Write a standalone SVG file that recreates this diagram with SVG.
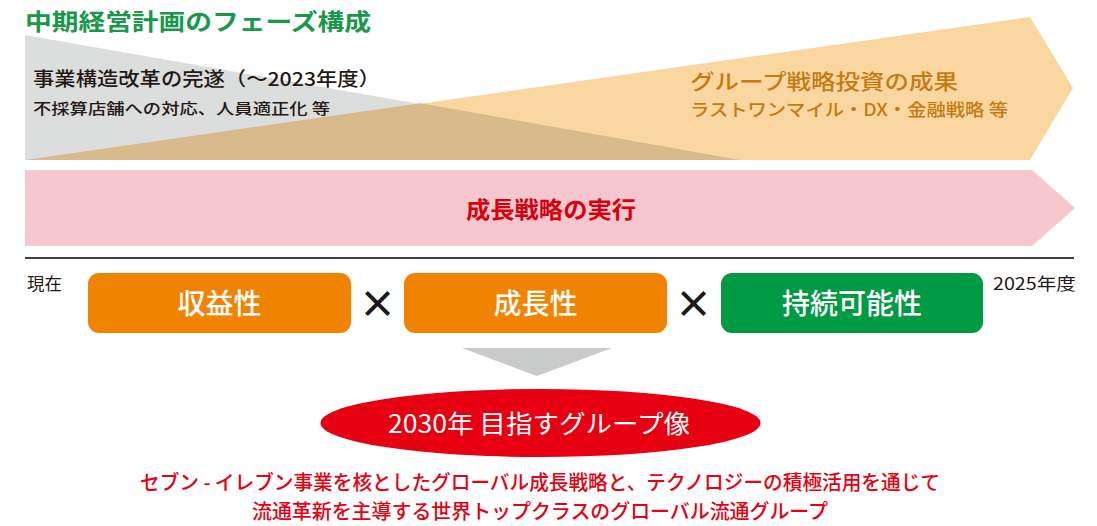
<svg xmlns="http://www.w3.org/2000/svg" width="1097" height="526" viewBox="0 0 1097 526">
<style>
text{font-family:"Noto Sans CJK JP","Liberation Sans",sans-serif;}
.title{font-size:23px;font-weight:bold;fill:#17984A;}
.dark{fill:#231815;}
.otext{fill:#C67A12;}
.box{stroke:none;}
.blabel{font-size:28px;fill:#FFFFFF;text-anchor:middle;font-weight:500;}
.times{font-size:38px;font-weight:bold;fill:#1a1a1a;text-anchor:middle;dominant-baseline:central;}
.small{fill:#231815;}
.red{fill:#E60012;font-size:20px;text-anchor:middle;font-weight:500;}
</style>
<text class="title" x="25" y="30" textLength="346" lengthAdjust="spacingAndGlyphs">中期経営計画のフェーズ構成</text>

<g id="phase-bands">
<polygon id="orange-band" points="25,160 1030,17 1073,88 1030,160" fill="#FAD7A1"/>
<polygon id="gray-band" points="25,35 25,160 740,160" fill="#DCDDDD"/>
<polygon id="overlap" points="25,160 420.6,103.2 740,160" fill="#D8BA8C"/>
</g>

<g id="restructure">
<text class="dark" x="33" y="86" font-size="19" font-weight="500" textLength="347" lengthAdjust="spacingAndGlyphs">事業構造改革の完遂（～2023年度）</text>
<text class="dark" x="33" y="114" font-size="15" font-weight="500" textLength="297" lengthAdjust="spacingAndGlyphs">不採算店舗への対応、人員適正化 等</text>
</g>

<g id="group-strategy">
<text class="otext" x="690" y="89" font-size="21" font-weight="500" textLength="268" lengthAdjust="spacingAndGlyphs">グループ戦略投資の成果</text>
<text class="otext" x="690" y="116" font-size="17" font-weight="500" textLength="318" lengthAdjust="spacingAndGlyphs">ラストワンマイル・DX・金融戦略 等</text>
</g>

<g id="growth-execution">
<polygon points="25,170 1032,170 1075,208 1032,246 25,246" fill="#F6C7CE"/>
<text x="551" y="218" font-size="23" font-weight="bold" fill="#D7000F" text-anchor="middle" textLength="170" lengthAdjust="spacingAndGlyphs">成長戦略の実行</text>
</g>

<g id="timeline">
<line x1="25" y1="258" x2="1074" y2="258" stroke="#000" stroke-width="1.5"/>
<text class="small" x="27" y="290" font-size="17" textLength="35" lengthAdjust="spacingAndGlyphs">現在</text>
<text class="small" x="993" y="290" font-size="17" textLength="83" lengthAdjust="spacingAndGlyphs">2025年度</text>
</g>

<g id="node-profitability">
<rect class="box" x="88" y="273" width="263" height="60" rx="11" fill="#F08300"/>
<text class="blabel" x="219.5" y="314">収益性</text>
</g>
<text class="times" x="377.5" y="301">×</text>
<g id="node-growth">
<rect class="box" x="404" y="273" width="263" height="60" rx="11" fill="#F08300"/>
<text class="blabel" x="535.5" y="314">成長性</text>
</g>
<text class="times" x="693.5" y="301">×</text>
<g id="node-sustainability">
<rect class="box" x="721" y="273" width="262" height="60" rx="11" fill="#009A44"/>
<text class="blabel" x="852" y="314">持続可能性</text>
</g>

<g id="connectors">
<polygon points="462,348 612,348 537,376" fill="#C9CACA"/>
</g>

<g id="vision-2030">
<ellipse cx="540.5" cy="423" rx="220" ry="34" fill="#E60012"/>
<text x="539" y="433" font-size="25" fill="#FFFFFF" text-anchor="middle" textLength="302" lengthAdjust="spacingAndGlyphs">2030年 目指すグループ像</text>
</g>

<g id="vision-text">
<text class="red" x="540" y="490" textLength="800" lengthAdjust="spacingAndGlyphs">セブン - イレブン事業を核としたグローバル成長戦略と、テクノロジーの積極活用を通じて</text>
<text class="red" x="540" y="519" textLength="576" lengthAdjust="spacingAndGlyphs">流通革新を主導する世界トップクラスのグローバル流通グループ</text>
</g>
</svg>
